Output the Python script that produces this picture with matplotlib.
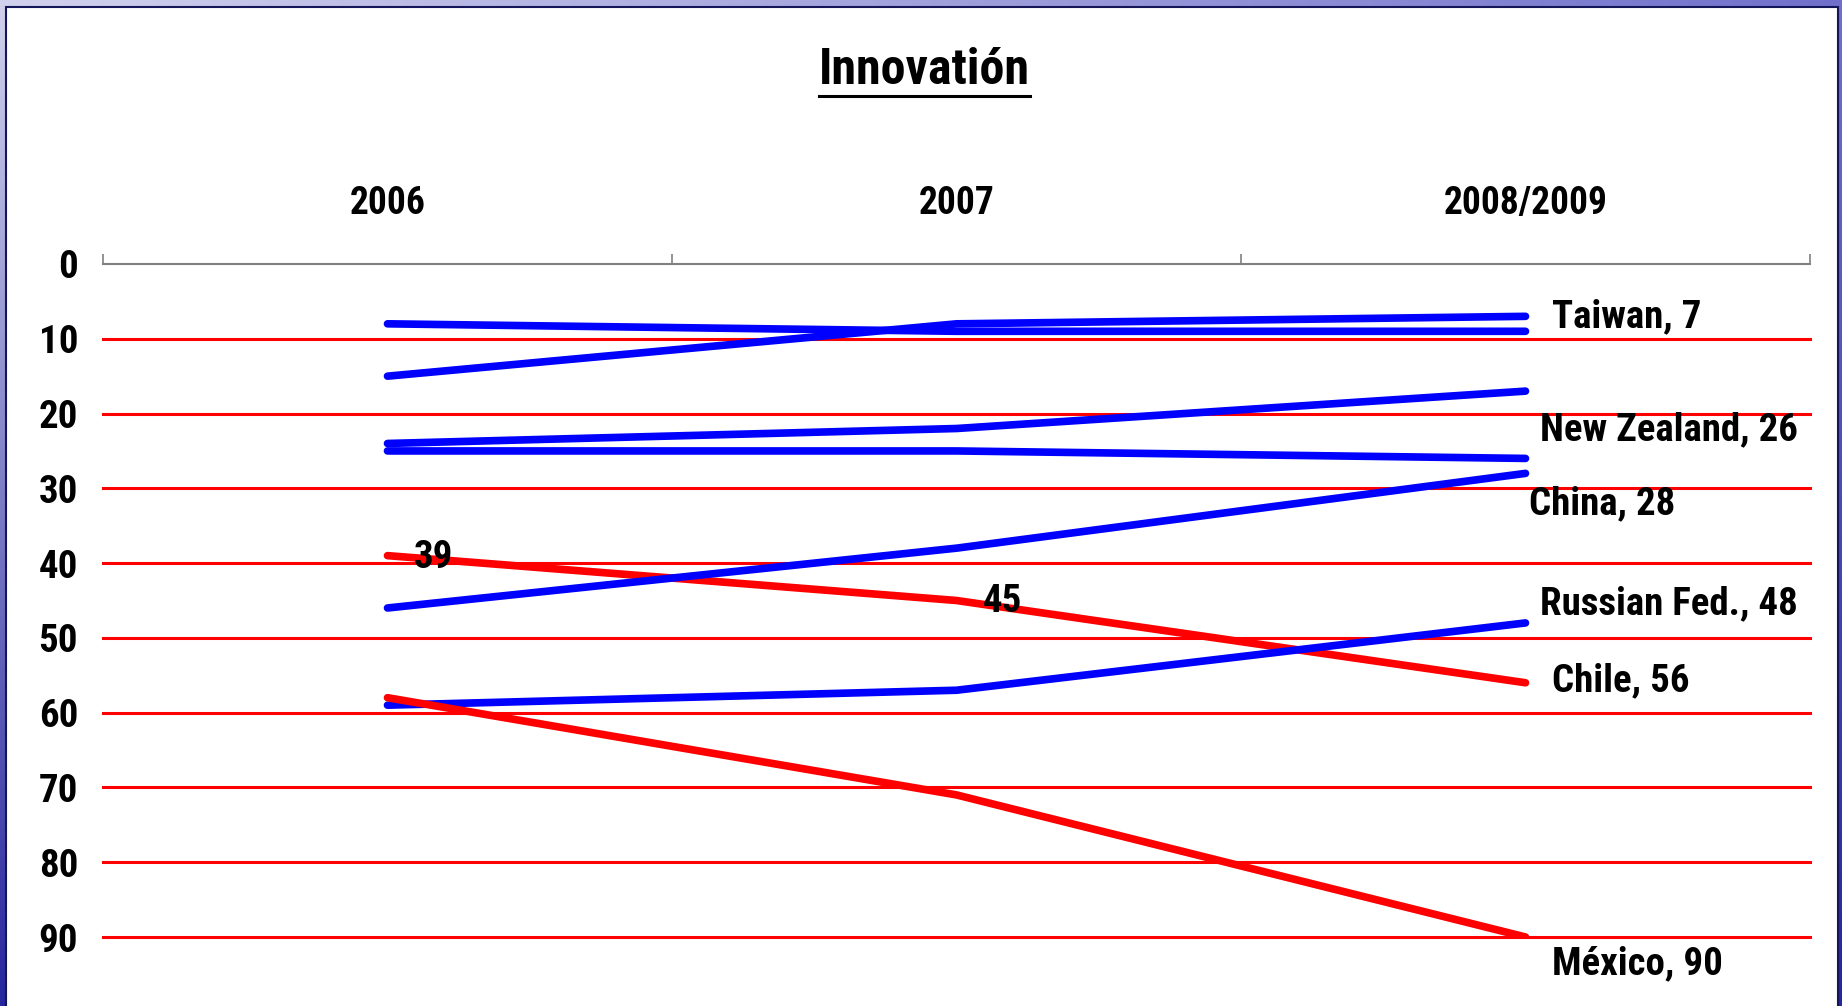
import numpy as np
import matplotlib.pyplot as plt
from matplotlib import font_manager
from matplotlib.lines import Line2D
from matplotlib.patches import Rectangle

# Data (ranking, lower is better)
years = ["2006", "2007", "2008/2009"]
taiwan = [15, 8, 7]
top_unlabeled = [8, 9, 9]
mid_unlabeled = [24, 22, 17]
new_zealand = [25, 25, 26]
china = [46, 38, 28]
russia = [59, 57, 48]
chile = [39, 45, 56]
mexico = [58, 71, 90]

end_names = ["Taiwan", "New Zealand", "China", "Russian Fed.", "Chile", "México"]
end_series = [taiwan, new_zealand, china, russia, chile, mexico]
# label nudges (x in categories, y in rank units)
end_offsets = [(0.047, 0.0), (0.026, -3.8), (0.007, 4.0), (0.026, -2.6), (0.047, -0.3), (0.047, 3.6)]

# pick a narrow bold sans close to Arial Narrow
static_bold = {f.name for f in font_manager.fontManager.ttflist
               if f.weight in (700, 'bold') and '[' not in f.fname}
font = 'DejaVu Sans'
for cand in ['Liberation Sans Narrow', 'Roboto Condensed', 'IBM Plex Sans Condensed',
             'Fira Sans Condensed', 'Asap Condensed']:
    if cand in static_bold:
        font = cand
        break
plt.rcParams['font.family'] = [font, 'DejaVu Sans']
plt.rcParams['font.weight'] = 'bold'

W, H = 1842, 1006
fig = plt.figure(figsize=(W / 100, H / 100), dpi=100)

# Slide background: gradient border + white panel
bg = fig.add_axes([0, 0, 1, 1], zorder=-10)
gx = np.linspace(0, 1, 200)[None, :, None]
gy = np.linspace(0, 1, 200)[:, None, None]
tl = np.array([0.82, 0.82, 0.93])
tr = np.array([0.44, 0.44, 0.80])
bl = np.array([0.15, 0.15, 0.62])
br = np.array([0.15, 0.15, 0.62])
grad = (1 - gy) * ((1 - gx) * tl + gx * tr) + gy * ((1 - gx) * bl + gx * br)
bg.imshow(grad, extent=[0, 1, 0, 1], aspect='auto', origin='upper')
bg.add_patch(Rectangle((6 / W, -0.01), (1838 - 6) / W, 1.01 - 7 / H,
                       facecolor='white', edgecolor='#15155a', linewidth=1.5))
bg.set_xlim(0, 1)
bg.set_ylim(0, 1)
bg.axis('off')

ax = fig.add_axes([103 / W, 1 - 937 / H, (1810 - 103) / W, (937 - 264) / H])
ax.set_facecolor('none')
x = np.arange(len(years))

lw = 5.5
ax.plot(x, chile, color='#ff0000', lw=lw, solid_capstyle='round', zorder=3)
for s in [taiwan, top_unlabeled, mid_unlabeled, new_zealand, china, russia]:
    ax.plot(x, s, color='#0000ff', lw=lw, solid_capstyle='round', zorder=3)
ax.plot(x, mexico, color='#ff0000', lw=lw, solid_capstyle='round', zorder=3)

fs = 28
for name, s, (dx, dy) in zip(end_names, end_series, end_offsets):
    ax.text(x[-1] + dx, s[-1] + dy, f"{name}, {s[-1]}", fontsize=fs,
            fontweight='bold', ha='left', va='center', zorder=4)
ax.text(x[0] + 0.047, chile[0] + 0.2, str(chile[0]), fontsize=fs,
        fontweight='bold', ha='left', va='center', zorder=4)
ax.text(x[1] + 0.047, chile[1] + 0.2, str(chile[1]), fontsize=fs,
        fontweight='bold', ha='left', va='center', zorder=4)

ax.set_xlim(-0.5, len(years) - 0.5)
ax.set_ylim(90, 0)

# x axis on top: boundary ticks + category labels
ax.xaxis.tick_top()
ax.set_xticks(np.arange(-0.5, len(years), 1.0))
ax.set_xticklabels([])
ax.set_xticks(x, minor=True)
ax.set_xticklabels(years, minor=True, fontsize=27, fontweight='bold')
ax.tick_params(axis='x', which='major', direction='out', length=7, width=1.2, color='#808080')
ax.tick_params(axis='x', which='minor', length=0, pad=30)

ax.set_yticks(range(0, 100, 10))
ax.tick_params(axis='y', length=0, pad=18, labelsize=28)
for lab in ax.get_yticklabels():
    lab.set_fontweight('bold')
ax.yaxis.grid(True, color='#ff0000', lw=2.2)
for gl in ax.get_ygridlines():
    gl.set_clip_on(False)
ax.get_ygridlines()[0].set_visible(False)
ax.set_axisbelow(True)

for side in ['left', 'right', 'bottom']:
    ax.spines[side].set_visible(False)
ax.spines['top'].set_color('#808080')
ax.spines['top'].set_linewidth(1.5)

# Title, underlined
title = fig.text(0.5017, 0.930, "Innovatión", fontsize=36, fontweight='bold',
                 ha='center', va='center')
fig.canvas.draw()
bb = title.get_window_extent()
uy = (bb.y0 - 2) / H
fig.add_artist(Line2D([bb.x0 / W, bb.x1 / W], [uy, uy], color='black', lw=2.2))

fig.savefig("out.png", dpi=100)
